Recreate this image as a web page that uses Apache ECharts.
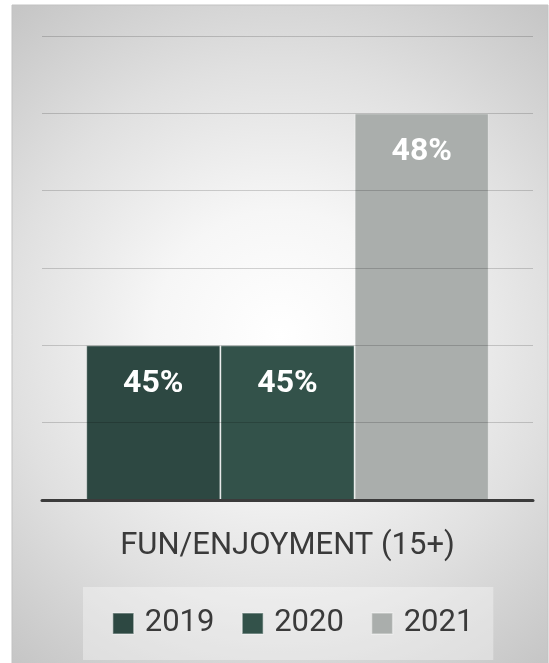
<!DOCTYPE html>
<html>
<head>
<meta charset="utf-8">
<script src="https://cdn.jsdelivr.net/npm/echarts@6/dist/echarts.min.js"></script>
<style>
  html, body { margin: 0; padding: 0; background: #fff; }
  #chart { width: 549px; height: 663px; }
</style>
</head>
<body>
<div id="chart"></div>
<script>
// data
const categories = ['FUN/ENJOYMENT (15+)'];
const years = ['2019', '2020', '2021'];
const values2019 = [45];
const values2020 = [45];
const values2021 = [48];
const seriesValues = [values2019, values2020, values2021];
const colors = ['#2d4842', '#33524a', '#aaaeac'];

const chart = echarts.init(document.getElementById('chart'));

const series = years.map(function (year, i) {
  return {
    name: year,
    type: 'bar',
    data: seriesValues[i],
    barGap: '0%',
    barCategoryGap: '18%',
    itemStyle: {
      color: colors[i],
      borderColor: 'rgba(255,255,255,0.45)',
      borderWidth: 1
    },
    label: {
      show: true,
      position: 'insideTop',
      distance: 23,
      formatter: '{c}%',
      color: '#ffffff',
      fontFamily: 'Roboto',
      fontWeight: 'bold',
      fontSize: 32
    }
  };
});

const option = {
  animation: false,
  graphic: [{
    type: 'rect',
    z: -10,
    silent: true,
    shape: { x: 12, y: 5, width: 536, height: 662 },
    style: {
      fill: new echarts.graphic.RadialGradient(0.5, 0.5, 0.78, [
        { offset: 0, color: '#ffffff' },
        { offset: 0.3, color: '#f6f6f6' },
        { offset: 0.65, color: '#e0e0e0' },
        { offset: 1, color: '#c6c6c6' }
      ]),
      stroke: '#c2c2c2',
      lineWidth: 1
    }
  }],
  grid: { left: 42, right: 16, top: 36, bottom: 163 },
  legend: {
    data: years,
    left: 83,
    top: 587,
    padding: [21, 20, 21, 29],
    backgroundColor: 'rgba(255,255,255,0.35)',
    itemWidth: 21,
    itemHeight: 21,
    itemGap: 27,
    icon: 'rect',
    itemStyle: { borderColor: 'rgba(255,255,255,0.4)', borderWidth: 1.5 },
    textStyle: {
      fontFamily: 'Roboto',
      fontSize: 31,
      color: '#3a3a3a',
      padding: [0, 0, 0, 6]
    }
  },
  xAxis: {
    type: 'category',
    data: categories,
    z: 5,
    axisLine: { lineStyle: { color: '#3b3b3b', width: 3 } },
    axisTick: { show: false },
    axisLabel: {
      margin: 31,
      fontFamily: 'Roboto',
      fontSize: 31,
      color: '#3a3a3a'
    }
  },
  yAxis: {
    type: 'value',
    min: 43,
    max: 49,
    interval: 1,
    z: 5,
    axisLine: { show: false },
    axisTick: { show: false },
    axisLabel: { show: false },
    splitLine: { lineStyle: { color: 'rgba(0,0,0,0.17)', width: 1 } }
  },
  series: series
};

chart.setOption(option);
</script>
</body>
</html>
